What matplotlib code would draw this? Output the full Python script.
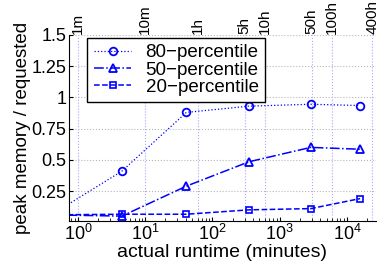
import numpy as np
import matplotlib
matplotlib.use("Agg")
import matplotlib.pyplot as plt
from matplotlib.ticker import FixedLocator, NullFormatter

plt.rcParams['font.family'] = ['Liberation Sans', 'DejaVu Sans']

# runtime in minutes (first point sits left of the visible range)
runtime = [0.4, 4.5, 41, 350, 2900, 15700]
p80 = [0.06, 0.41, 0.88, 0.93, 0.945, 0.935]
p50 = [0.06, 0.05, 0.29, 0.485, 0.60, 0.585]
p20 = [0.06, 0.065, 0.065, 0.10, 0.11, 0.19]

top_ticks = [1, 10, 60, 300, 600, 3000, 6000, 24000]
top_labels = ["1m", "10m", "1h", "5h", "10h", "50h", "100h", "400h"]
yticks = [0.25, 0.5, 0.75, 1, 1.25, 1.5]
ylabels = ["0.25", "0.5", "0.75", "1", "1.25", "1.5"]

fs = 13

fig = plt.figure(figsize=(3.78, 2.75), dpi=100)
ax = fig.add_axes([0.1825, 0.196, 0.812, 0.677])

ax.plot(runtime, p80, color='blue', ls=':', lw=0.9, marker='o', ms=5.5,
        mfc='none', mew=1.3, label='80\u2212percentile')
ax.plot(runtime, p50, color='blue', ls='-.', lw=1.1, marker='^', ms=5.5,
        mfc='none', mew=1.3, label='50\u2212percentile')
ax.plot(runtime, p20, color='blue', ls='--', lw=1.1, marker='s', ms=4,
        mfc='none', mew=1.2, label='20\u2212percentile')

ax.set_xscale('log')
ax.set_xlim(0.735, 27000)
ax.set_ylim(0.01, 1.5)
ax.set_yticks(yticks)
ax.set_yticklabels(ylabels)

for t in top_ticks:
    ax.axvline(t, color='#a8a8ff', ls=':', lw=0.8, zorder=0)
for v in yticks:
    ax.axhline(v, color='#b8b8b8', ls=':', lw=0.8, zorder=0)

ax.spines['top'].set_visible(False)
ax.spines['right'].set_visible(False)
ax.tick_params(axis='both', labelsize=fs, direction='in', length=3, pad=2)
ax.tick_params(axis='x', which='minor', direction='in', length=2)
ax.set_xlabel("actual runtime (minutes)", fontsize=14, labelpad=0)
ax.set_ylabel("peak memory / requested", fontsize=13.5, labelpad=0)

ax2 = ax.twiny()
ax2.set_xscale('log')
ax2.set_xlim(ax.get_xlim())
ax2.xaxis.set_major_locator(FixedLocator(top_ticks))
ax2.set_xticklabels(top_labels, rotation=90)
ax2.xaxis.set_minor_formatter(NullFormatter())
ax2.tick_params(axis='x', which='both', length=0, labelsize=11, pad=1)
for s in ax2.spines.values():
    s.set_visible(False)

leg = ax.legend(loc='upper left', bbox_to_anchor=(0.06, 0.985), fontsize=13.5,
                fancybox=False, edgecolor='black', framealpha=1,
                handlelength=2.0, borderpad=0.35, labelspacing=0.0,
                handletextpad=0.75, borderaxespad=0)
leg.get_frame().set_linewidth(1.0)

fig.savefig("out.png", dpi=100)
